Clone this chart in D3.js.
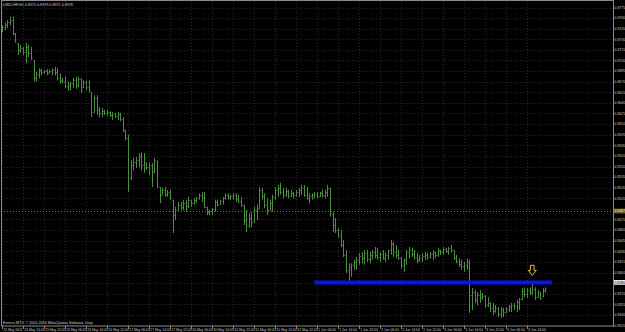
<!DOCTYPE html>
<html><head><meta charset="utf-8">
<script src="https://cdn.jsdelivr.net/npm/d3@7/dist/d3.min.js"></script>
<style>html,body{margin:0;padding:0;background:#000;overflow:hidden}svg{display:block}</style>
</head><body>
<svg id="c" width="625" height="332"></svg>
<script>
const symbolTitle = "USDCHF,H1";
const copyright = "Exness MT4, \u00a9 2001-2010 MetaQuotes Software Corp.";
const opens = [0.8743,0.8747,0.8750,0.8754,0.8757,0.8737,0.8723,0.8715,0.8718,0.8712,
0.8719,0.8711,0.8701,0.8675,0.8681,0.8687,0.8684,0.8685,0.8682,0.8685,
0.8687,0.8684,0.8675,0.8672,0.8671,0.8664,0.8665,0.8668,0.8672,0.8665,
0.8674,0.8662,0.8670,0.8662,0.8655,0.8627,0.8647,0.8630,0.8626,0.8628,
0.8626,0.8627,0.8623,0.8624,0.8621,0.8624,0.8617,0.8602,0.8590,0.8534,
0.8552,0.8556,0.8559,0.8565,0.8552,0.8555,0.8549,0.8552,0.8542,0.8556,
0.8521,0.8510,0.8517,0.8511,0.8514,0.8503,0.8481,0.8488,0.8496,0.8493,
0.8498,0.8494,0.8503,0.8498,0.8503,0.8505,0.8510,0.8507,0.8493,0.8486,
0.8487,0.8490,0.8500,0.8497,0.8501,0.8505,0.8510,0.8507,0.8508,0.8510,
0.8504,0.8501,0.8496,0.8474,0.8467,0.8477,0.8471,0.8488,0.8491,0.8517,
0.8508,0.8496,0.8488,0.8498,0.8507,0.8517,0.8520,0.8514,0.8510,0.8515,
0.8508,0.8512,0.8510,0.8514,0.8517,0.8520,0.8510,0.8505,0.8508,0.8510,
0.8511,0.8508,0.8512,0.8510,0.8514,0.8520,0.8483,0.8467,0.8460,0.8453,
0.8439,0.8425,0.8404,0.8408,0.8411,0.8415,0.8418,0.8423,0.8420,0.8428,
0.8419,0.8425,0.8429,0.8425,0.8422,0.8426,0.8420,0.8425,0.8432,0.8440,
0.8429,0.8425,0.8420,0.8411,0.8418,0.8429,0.8432,0.8426,0.8422,0.8418,
0.8420,0.8423,0.8425,0.8422,0.8426,0.8429,0.8425,0.8432,0.8429,0.8433,
0.8430,0.8435,0.8432,0.8420,0.8416,0.8412,0.8409,0.8411,0.8415,0.8368,
0.8372,0.8361,0.8368,0.8365,0.8367,0.8354,0.8357,0.8350,0.8345,0.8350,
0.8341,0.8347,0.8344,0.8348,0.8351,0.8354,0.8353,0.8358,0.8362,0.8374,
0.8370,0.8375,0.8372,0.8377,0.8365,0.8372,0.8367,0.8375];
const highs = [0.8750,0.8753,0.8757,0.8762,0.8762,0.8739,0.8725,0.8722,0.8719,0.8725,
0.8722,0.8719,0.8701,0.8684,0.8689,0.8688,0.8687,0.8688,0.8687,0.8689,
0.8691,0.8689,0.8682,0.8675,0.8677,0.8670,0.8670,0.8675,0.8677,0.8677,
0.8675,0.8672,0.8671,0.8672,0.8655,0.8651,0.8651,0.8634,0.8633,0.8630,
0.8630,0.8628,0.8627,0.8626,0.8627,0.8626,0.8620,0.8602,0.8595,0.8559,
0.8562,0.8563,0.8569,0.8570,0.8569,0.8556,0.8556,0.8555,0.8562,0.8559,
0.8521,0.8520,0.8521,0.8517,0.8517,0.8503,0.8493,0.8500,0.8500,0.8503,
0.8503,0.8507,0.8503,0.8505,0.8507,0.8512,0.8514,0.8514,0.8493,0.8488,
0.8491,0.8503,0.8503,0.8503,0.8507,0.8512,0.8512,0.8510,0.8512,0.8512,
0.8510,0.8507,0.8496,0.8488,0.8484,0.8486,0.8493,0.8496,0.8521,0.8520,
0.8512,0.8505,0.8503,0.8510,0.8521,0.8524,0.8527,0.8520,0.8520,0.8517,
0.8517,0.8514,0.8517,0.8520,0.8524,0.8524,0.8521,0.8512,0.8512,0.8514,
0.8514,0.8514,0.8517,0.8517,0.8524,0.8520,0.8486,0.8477,0.8463,0.8460,
0.8446,0.8432,0.8413,0.8413,0.8418,0.8422,0.8428,0.8429,0.8432,0.8432,
0.8429,0.8432,0.8436,0.8435,0.8429,0.8432,0.8428,0.8432,0.8446,0.8443,
0.8439,0.8432,0.8422,0.8420,0.8432,0.8436,0.8435,0.8432,0.8428,0.8425,
0.8428,0.8429,0.8428,0.8429,0.8432,0.8429,0.8435,0.8432,0.8436,0.8435,
0.8436,0.8439,0.8432,0.8425,0.8420,0.8418,0.8415,0.8420,0.8418,0.8378,
0.8375,0.8372,0.8375,0.8371,0.8368,0.8365,0.8358,0.8357,0.8354,0.8351,
0.8351,0.8350,0.8351,0.8354,0.8357,0.8357,0.8361,0.8364,0.8378,0.8379,
0.8378,0.8379,0.8387,0.8379,0.8375,0.8372,0.8378,0.8379];
const lows = [0.8740,0.8743,0.8746,0.8750,0.8736,0.8725,0.8708,0.8711,0.8708,0.8696,
0.8705,0.8701,0.8670,0.8670,0.8675,0.8679,0.8681,0.8679,0.8682,0.8679,
0.8679,0.8672,0.8667,0.8668,0.8661,0.8657,0.8658,0.8661,0.8660,0.8662,
0.8654,0.8661,0.8658,0.8655,0.8620,0.8627,0.8623,0.8619,0.8620,0.8623,
0.8621,0.8620,0.8616,0.8619,0.8616,0.8614,0.8599,0.8587,0.8514,0.8531,
0.8545,0.8548,0.8549,0.8545,0.8541,0.8545,0.8538,0.8521,0.8541,0.8520,
0.8498,0.8510,0.8507,0.8507,0.8503,0.8456,0.8474,0.8488,0.8488,0.8488,
0.8486,0.8491,0.8493,0.8496,0.8498,0.8503,0.8500,0.8491,0.8481,0.8481,
0.8481,0.8486,0.8493,0.8496,0.8496,0.8503,0.8503,0.8503,0.8503,0.8500,
0.8498,0.8493,0.8467,0.8457,0.8463,0.8464,0.8471,0.8474,0.8491,0.8503,
0.8491,0.8481,0.8488,0.8486,0.8503,0.8507,0.8510,0.8505,0.8507,0.8505,
0.8507,0.8505,0.8507,0.8507,0.8510,0.8507,0.8503,0.8498,0.8503,0.8505,
0.8505,0.8507,0.8507,0.8505,0.8507,0.8479,0.8457,0.8456,0.8449,0.8436,
0.8422,0.8399,0.8385,0.8394,0.8404,0.8404,0.8411,0.8413,0.8411,0.8415,
0.8413,0.8418,0.8420,0.8418,0.8415,0.8418,0.8415,0.8418,0.8425,0.8422,
0.8420,0.8418,0.8406,0.8401,0.8411,0.8420,0.8422,0.8418,0.8413,0.8415,
0.8415,0.8418,0.8418,0.8420,0.8418,0.8420,0.8422,0.8425,0.8425,0.8428,
0.8425,0.8428,0.8418,0.8413,0.8408,0.8404,0.8401,0.8404,0.8343,0.8347,
0.8357,0.8354,0.8357,0.8361,0.8350,0.8351,0.8344,0.8340,0.8343,0.8337,
0.8336,0.8337,0.8343,0.8344,0.8344,0.8347,0.8344,0.8347,0.8361,0.8365,
0.8364,0.8368,0.8368,0.8361,0.8364,0.8361,0.8365,0.8371];
const closes = [0.8747,0.8750,0.8754,0.8757,0.8739,0.8726,0.8715,0.8718,0.8712,0.8719,
0.8711,0.8703,0.8675,0.8681,0.8687,0.8684,0.8685,0.8682,0.8685,0.8687,
0.8684,0.8675,0.8672,0.8671,0.8664,0.8665,0.8668,0.8672,0.8665,0.8674,
0.8658,0.8670,0.8662,0.8658,0.8627,0.8647,0.8630,0.8626,0.8628,0.8626,
0.8627,0.8623,0.8624,0.8621,0.8624,0.8617,0.8602,0.8590,0.8524,0.8552,
0.8556,0.8559,0.8565,0.8552,0.8562,0.8549,0.8552,0.8531,0.8559,0.8522,
0.8510,0.8517,0.8511,0.8514,0.8505,0.8481,0.8488,0.8496,0.8493,0.8498,
0.8494,0.8503,0.8498,0.8503,0.8505,0.8510,0.8507,0.8493,0.8486,0.8487,
0.8490,0.8500,0.8497,0.8501,0.8505,0.8510,0.8507,0.8508,0.8510,0.8504,
0.8501,0.8496,0.8474,0.8467,0.8477,0.8471,0.8488,0.8491,0.8517,0.8508,
0.8496,0.8488,0.8498,0.8507,0.8517,0.8520,0.8514,0.8510,0.8515,0.8508,
0.8512,0.8510,0.8514,0.8517,0.8520,0.8510,0.8505,0.8508,0.8510,0.8511,
0.8508,0.8512,0.8510,0.8514,0.8520,0.8483,0.8467,0.8460,0.8453,0.8439,
0.8425,0.8404,0.8408,0.8411,0.8415,0.8418,0.8423,0.8420,0.8428,0.8419,
0.8425,0.8429,0.8425,0.8422,0.8426,0.8420,0.8425,0.8432,0.8440,0.8429,
0.8425,0.8420,0.8411,0.8418,0.8429,0.8432,0.8426,0.8422,0.8418,0.8420,
0.8423,0.8425,0.8422,0.8426,0.8429,0.8425,0.8432,0.8429,0.8433,0.8430,
0.8435,0.8432,0.8420,0.8416,0.8412,0.8409,0.8411,0.8415,0.8368,0.8372,
0.8361,0.8368,0.8365,0.8367,0.8354,0.8357,0.8350,0.8345,0.8350,0.8341,
0.8347,0.8344,0.8348,0.8351,0.8354,0.8353,0.8358,0.8362,0.8374,0.8370,
0.8375,0.8372,0.8377,0.8365,0.8372,0.8364,0.8375,0.8378];
const timeLabels = ["25 May 2011","25 May 14:00","25 May 22:00","26 May 06:00","26 May 14:00","26 May 22:00",
"27 May 06:00","27 May 14:00","27 May 22:00","30 May 06:00","30 May 14:00","30 May 22:00",
"31 May 06:00","31 May 14:00","31 May 22:00","1 Jun 06:00","1 Jun 14:00","1 Jun 22:00",
"2 Jun 06:00","2 Jun 14:00","2 Jun 22:00","3 Jun 06:00","3 Jun 14:00","3 Jun 22:00",
"6 Jun 06:00","6 Jun 14:00"];
const timeLabelBars = [0,8,16,24,32,40,48,56,64,72,80,88,96,104,112,120,128,136,144,152,160,168,176,184,192,200];
const priceTicks = [0.8775,0.8760,0.8745,0.8730,0.8715,0.8700,0.8685,0.8670,0.8655,0.8640,
0.8625,0.8610,0.8595,0.8580,0.8565,0.8550,0.8535,0.8520,0.8505,0.8490,0.8475,0.8460,
0.8445,0.8430,0.8415,0.8400,0.8385,0.8370,0.8355,0.8340,0.8325];
const hLinePrice = 0.8386;      // blue support line
const hLineBars = [119, 209.5];
const dotLinePrice = 0.8487;    // dotted level
const arrowBar = 202, arrowPrice = 0.8396;

(function () {
const svg = d3.select("#c");
const W = 625, H = 332;
const pL = 1, pR = 613, pT = 1, pB = 326;
const x = d3.scaleLinear().domain([0, 232]).range([2, 611]);
const y = d3.scaleLinear().domain([0.8775, 0.8325]).range([7.5, 325.5]);
const font = "'Liberation Sans', Arial, sans-serif";
const fsAxis = 3.45, fsTime = 3.35, fsText = 3.7;

svg.append("rect").attr("width", W).attr("height", H).attr("fill", "#000");
svg.append("defs").append("clipPath").attr("id", "cp").append("rect")
  .attr("x", pL).attr("y", pT).attr("width", pR - pL).attr("height", pB - pT);

const plot = svg.append("g").attr("clip-path", "url(#cp)");
plot.selectAll(".gh").data(priceTicks).join("line")
  .attr("x1", pL).attr("x2", pR)
  .attr("y1", d => Math.round(y(d)) + 0.5).attr("y2", d => Math.round(y(d)) + 0.5)
  .attr("stroke", "#262626").attr("stroke-width", 1).attr("stroke-dasharray", "1,2");
plot.selectAll(".gv").data(timeLabelBars).join("line")
  .attr("x1", d => Math.round(x(d)) + 0.5).attr("x2", d => Math.round(x(d)) + 0.5)
  .attr("y1", pT).attr("y2", pB)
  .attr("stroke", "#262626").attr("stroke-width", 1).attr("stroke-dasharray", "1,2");

plot.append("line").attr("x1", pL).attr("x2", pR)
  .attr("y1", Math.round(y(dotLinePrice)) + 0.5).attr("y2", Math.round(y(dotLinePrice)) + 0.5)
  .attr("stroke", "#6e6844").attr("stroke-width", 1).attr("stroke-dasharray", "1,2");

const barColor = "#4a8e40";
const idx = d3.range(opens.length);
const bars = plot.append("g").attr("stroke", barColor).attr("stroke-width", 1).attr("fill", "none");
bars.selectAll("path").data(idx).join("path")
  .attr("d", i => {
    const cx = Math.round(x(i)) + 0.5;
    const yh = y(highs[i]), yl = y(lows[i]);
    const yo = Math.round(y(opens[i])) + 0.5, yc = Math.round(y(closes[i])) + 0.5;
    return `M${cx},${yh}V${Math.max(yl, yh + 1)}M${cx - 1},${yo}H${cx}M${cx},${yc}H${cx + 1}`;
  });

plot.append("line")
  .attr("x1", x(hLineBars[0])).attr("x2", x(hLineBars[1]))
  .attr("y1", y(hLinePrice)).attr("y2", y(hLinePrice))
  .attr("stroke", "#0a14e6").attr("stroke-width", 4);

const ax = x(arrowBar), ay = y(arrowPrice);
plot.append("path")
  .attr("d", `M${ax - 1.8},${ay - 10}H${ax + 1.8}V${ay - 5}H${ax + 4}L${ax},${ay}L${ax - 4},${ay - 5}H${ax - 1.8}Z`)
  .attr("fill", "#000").attr("stroke", "#e8b84a").attr("stroke-width", 1);

svg.append("rect").attr("x", pL + 0.5).attr("y", pT - 0.5).attr("width", pR - pL)
  .attr("height", pB - pT + 0.5).attr("fill", "none").attr("stroke", "#8a8a8a").attr("stroke-width", 1);

const tags = [dotLinePrice, hLinePrice];
const shownTicks = priceTicks.filter(p => tags.every(t => Math.abs(y(p) - y(t)) > 4.5));
svg.selectAll(".pl").data(shownTicks).join("text")
  .attr("x", 614.6).attr("y", d => y(d) + 1.3)
  .attr("fill", "#c8c8c8").attr("font-family", font).attr("font-size", fsAxis)
  .text(d => d.toFixed(4));
svg.selectAll(".pt").data(priceTicks).join("line")
  .attr("x1", pR).attr("x2", pR + 1.5)
  .attr("y1", d => Math.round(y(d)) + 0.5).attr("y2", d => Math.round(y(d)) + 0.5)
  .attr("stroke", "#8a8a8a");

function tag(price, bg, fg) {
  const yy = y(price);
  svg.append("rect").attr("x", 614).attr("y", yy - 2.4).attr("width", 11).attr("height", 4.8).attr("fill", bg);
  svg.append("text").attr("x", 614.4).attr("y", yy + 1.3).attr("fill", fg)
    .attr("font-family", font).attr("font-size", fsAxis).text(price.toFixed(4));
}
tag(dotLinePrice, "#6a6230", "#f0e29a");
tag(hLinePrice, "#e6e6e6", "#000");

svg.selectAll(".tt").data(timeLabelBars).join("line")
  .attr("x1", d => Math.round(x(d)) + 0.5).attr("x2", d => Math.round(x(d)) + 0.5)
  .attr("y1", pB).attr("y2", pB + 3).attr("stroke", "#8a8a8a");
svg.selectAll(".tl").data(timeLabelBars).join("text")
  .attr("x", d => x(d) + 1.3).attr("y", 330.8)
  .attr("fill", "#c8c8c8").attr("font-family", font).attr("font-size", fsTime)
  .text((d, i) => timeLabels[i]);

const last = opens.length - 1;
svg.append("text").attr("x", 3).attr("y", 6).attr("fill", "#d0d0d0")
  .attr("font-family", font).attr("font-size", fsText)
  .text(`${symbolTitle}  ${opens[last].toFixed(4)} ${highs[last].toFixed(4)} ${lows[last].toFixed(4)} ${closes[last].toFixed(4)}`);
svg.append("text").attr("x", 3).attr("y", 324.3).attr("fill", "#d0d0d0")
  .attr("font-family", font).attr("font-size", fsText).text(copyright);
})();
</script>
</body></html>
